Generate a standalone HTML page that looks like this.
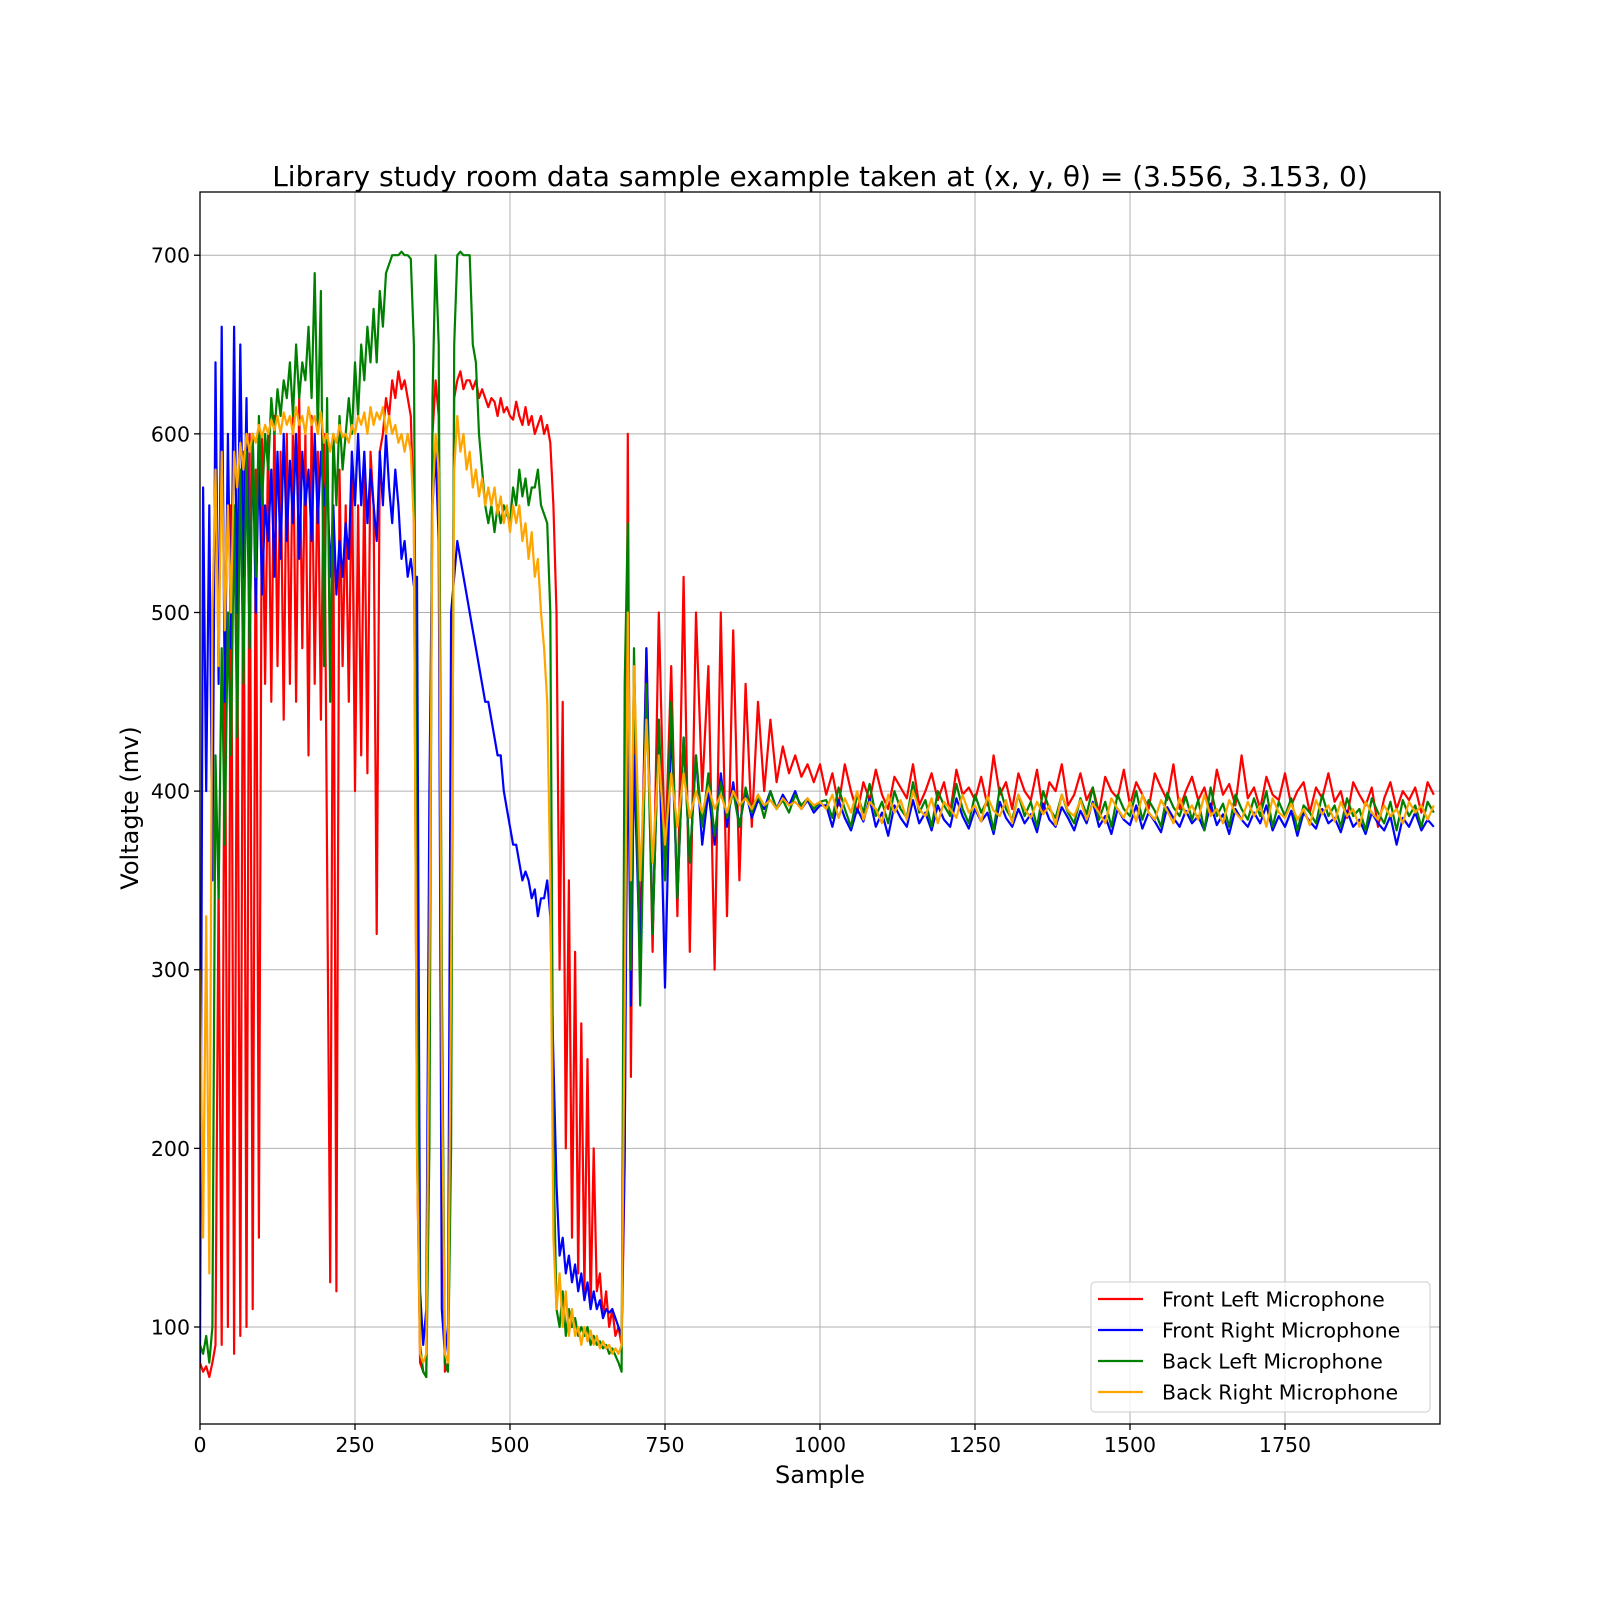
<!DOCTYPE html>
<html><head><meta charset="utf-8"><style>
html,body{margin:0;padding:0;background:#fff;}
svg text{font-family:"DejaVu Sans","Liberation Sans",sans-serif;fill:#000;}
</style></head><body>
<svg id="chart" width="1600" height="1600" viewBox="0 0 1600 1600" xmlns="http://www.w3.org/2000/svg">
<rect x="0" y="0" width="1600" height="1600" fill="#fff"/>
<defs><clipPath id="plotclip"><rect x="200" y="192" width="1240" height="1232"/></clipPath></defs>
<g id="grid"></g>
<g id="series" clip-path="url(#plotclip)"></g>
<rect x="200" y="192" width="1240" height="1232" fill="none" stroke="#000" stroke-width="1.3"/>
<g id="xticks"></g>
<g id="yticks"></g>
<text x="820" y="186" font-size="28" text-anchor="middle">Library study room data sample example taken at (x, y, θ) = (3.556, 3.153, 0)</text>
<text x="820" y="1483" font-size="24" text-anchor="middle">Sample</text>
<text x="0" y="0" font-size="24" text-anchor="middle" transform="translate(138,808) rotate(-90)">Voltagte (mv)</text>
<g id="legend">
<rect x="1091" y="1282" width="339" height="130" rx="4" fill="#fff" fill-opacity="0.8" stroke="#ccc" stroke-width="1"/>
</g>
</svg>
<script>
const seriesNames = ["Front Left Microphone","Front Right Microphone","Back Left Microphone","Back Right Microphone"];
const seriesColors = ["#ff0000","#0000ff","#008000","#ffa500"];
const xTicks = [0,250,500,750,1000,1250,1500,1750];
const yTicks = [100,200,300,400,500,600,700];
// values: first 141 points every 5 samples (0..700), then every 10 samples (710..)
const frontLeft = [80,75,78,72,80,90,
350,90,500,100,560,85,520,95,590,100,600,110,580,150,600,
460,600,450,610,470,590,440,600,460,610,450,620,480,600,420,610,460,590,440,600,
360,125,560,120,
580,470,560,450,590,400,
560,420,580,410,590,560,320,590,
600,620,610,630,620,635,625,630,620,610,
550,200,80,75,72,
300,600,630,610,
200,75,80,300,
620,630,635,625,630,630,625,630,620,625,620,615,620,
618,610,620,612,615,610,608,618,610,605,615,605,610,600,605,610,600,605,595,
560,500,300,450,200,350,150,310,130,270,120,250,110,200,120,130,105,120,100,110,95,100,90,
190,600,240,450,
320,480,310,500,360,470,330,520,310,500,400,470,300,500,330,490,350,460,380,450,400,440,405,425,410,420,408,415,405,415,
398,410,392,415,400,388,405,395,412,398,390,408,402,396,415,392,400,410,395,405,388,412,398,402,395,408,392,420,398,405,390,410,400,395,412,388,405,400,415,392,398,410,395,402,388,408,400,396,412,392,405,398,390,410,402,395,415,390,400,408,395,402,388,412,398,404,392,420,396,402,390,408,398,395,410,392,400,405,388,402,396,410,394,400,385,405,398,392,402,380,396,405,390,400,395,402,388,405,398];
const frontRight = [80,570,400,560,350,640,460,660,450,600,480,660,500,650,520,620,480,600,500,590,510,560,540,580,520,590,530,600,540,585,550,600,530,590,560,580,540,600,550,590,560,580,520,560,510,540,520,550,530,590,560,600,560,590,550,580,560,540,590,560,600,570,550,580,560,530,540,520,530,515,520,120,90,110,400,560,590,540,110,85,100,500,520,540,530,520,510,500,490,480,470,460,450,450,440,430,420,420,400,390,380,370,370,360,350,355,350,340,345,330,340,340,350,330,250,180,140,150,130,140,125,135,120,130,115,125,110,120,110,115,105,110,108,110,105,100,95,200,450,280,420,
300,480,320,440,290,440,340,430,360,420,370,400,370,410,380,405,380,400,385,395,390,400,390,398,392,400,390,395,388,392,
392,380,395,385,378,390,383,396,380,388,375,392,385,380,395,382,388,378,392,384,380,396,386,379,390,383,388,376,394,385,380,390,382,387,377,393,384,380,391,385,378,389,382,394,380,386,376,390,384,381,392,379,388,383,377,391,385,380,389,382,386,378,393,381,387,376,390,384,380,388,382,392,378,386,380,389,375,388,383,379,390,382,385,377,389,380,384,376,388,382,378,386,370,385,380,388,378,384,380];
const backLeft = [90,85,95,80,100,420,340,480,370,500,420,560,430,580,460,590,480,600,520,610,560,600,580,620,600,625,610,630,620,640,610,650,620,640,630,660,620,690,600,680,470,620,450,600,560,610,580,600,620,600,640,610,650,630,660,640,670,640,680,660,690,695,700,700,700,702,700,700,698,650,300,90,75,72,200,620,700,650,300,80,75,200,650,700,702,700,700,700,650,640,600,580,560,550,560,545,560,550,560,555,550,570,560,580,565,575,560,570,570,580,560,555,550,500,200,110,100,120,95,110,100,105,95,100,95,100,90,95,90,92,88,90,85,88,84,80,75,460,550,300,480,
280,460,320,440,350,450,340,430,360,420,380,410,375,405,385,400,380,402,388,398,385,400,390,395,388,398,392,396,390,394,
395,385,402,390,380,398,388,404,386,394,382,400,390,385,405,388,395,380,400,392,386,404,390,382,398,388,395,378,402,390,384,398,386,394,380,400,390,385,398,388,382,396,387,402,384,394,380,398,390,386,400,384,395,389,380,399,391,386,397,384,395,378,402,386,393,380,398,390,384,396,386,400,380,394,386,396,378,392,388,382,398,386,392,380,396,386,390,378,396,388,382,394,378,395,386,392,380,394,388];
const backRight = [300,150,330,130,500,580,470,590,490,560,500,590,570,595,580,600,590,600,595,605,598,605,600,608,602,610,600,612,605,610,600,615,605,610,600,615,605,610,600,612,595,600,590,600,595,605,598,600,595,605,600,610,605,612,600,615,605,612,608,615,600,610,600,605,595,600,590,600,590,550,200,85,80,85,300,560,600,580,250,85,80,300,580,610,590,600,580,590,570,580,565,575,560,570,560,570,555,565,550,560,545,560,550,560,540,550,530,545,520,530,500,480,450,350,150,110,130,100,120,95,110,95,100,90,100,92,98,90,95,88,92,88,90,85,88,85,90,280,500,350,470,
350,440,360,420,370,410,380,410,385,400,388,402,390,398,388,400,392,396,390,398,392,395,390,396,392,394,390,396,392,394,
390,398,385,396,388,400,384,394,390,382,398,388,395,384,400,390,386,396,382,394,390,385,398,388,392,383,397,389,386,395,382,398,390,385,394,387,392,381,398,389,386,395,384,393,388,382,396,390,385,394,383,398,388,384,395,389,382,396,387,392,384,398,386,390,382,395,388,384,394,386,392,380,396,388,385,393,384,390,381,395,387,392,383,394,386,390,380,394,388,384,392,386,390,382,394,388,392,384,392];

const NS="http://www.w3.org/2000/svg";
const X0=200,X1=1440,Y0=192,Y1=1424;
const xMin=0,xMax=2000,yMin=45.7,yMax=735.4;
function xs(v){return X0+(v-xMin)/(xMax-xMin)*(X1-X0);}
function ys(v){return Y1-(v-yMin)/(yMax-yMin)*(Y1-Y0);}
function sampleAt(i){return i<=140? i*5 : 700+(i-140)*10;}
function mk(tag,attrs,parent){const e=document.createElementNS(NS,tag);for(const k in attrs)e.setAttribute(k,attrs[k]);parent.appendChild(e);return e;}

const grid=document.getElementById('grid');
const xt=document.getElementById('xticks');
const yt=document.getElementById('yticks');
xTicks.forEach(t=>{
  const x=xs(t);
  const g=mk('line',{x1:x,x2:x,y1:Y0,y2:Y1,stroke:'#b0b0b0','stroke-width':1},grid);
  
  
  const tk=mk('line',{x1:x,x2:x,y1:Y1,y2:Y1+6,stroke:'#000','stroke-width':1.3},xt);
  
  
  const tx=mk('text',{x:x,y:Y1+28,'font-size':20.5,'text-anchor':'middle'},xt);
  tx.textContent=t;
  
  
});
yTicks.forEach(t=>{
  const y=ys(t);
  const g=mk('line',{x1:X0,x2:X1,y1:y,y2:y,stroke:'#b0b0b0','stroke-width':1},grid);
  
  
  const tk=mk('line',{x1:X0-6,x2:X0,y1:y,y2:y,stroke:'#000','stroke-width':1.3},yt);
  
  
  const tx=mk('text',{x:X0-10,y:y+7.5,'font-size':20.5,'text-anchor':'end'},yt);
  tx.textContent=t;
  
  
});

const sg=document.getElementById('series');
const allSeries=[frontLeft,frontRight,backLeft,backRight];
const seriesIds=['front-left-line','front-right-line','back-left-line','back-right-line'];
allSeries.forEach((arr,si)=>{
  const pts=arr.map((v,i)=>xs(sampleAt(i)).toFixed(1)+','+ys(v).toFixed(1)).join(' ');
  const pl=mk('polyline',{points:pts,fill:'none',stroke:seriesColors[si],'stroke-width':2.2,'stroke-linejoin':'round'},sg);
  
  
});

const lg=document.getElementById('legend');
seriesNames.forEach((n,i)=>{
  const y=1299+i*31;
  const ln=mk('line',{x1:1098,x2:1143,y1:y,y2:y,stroke:seriesColors[i],'stroke-width':2.2},lg);
  
  
  const tx=mk('text',{x:1162,y:y+7.5,'font-size':20.5},lg);
  tx.textContent=n;
  
  
});
</script>
</body></html>
